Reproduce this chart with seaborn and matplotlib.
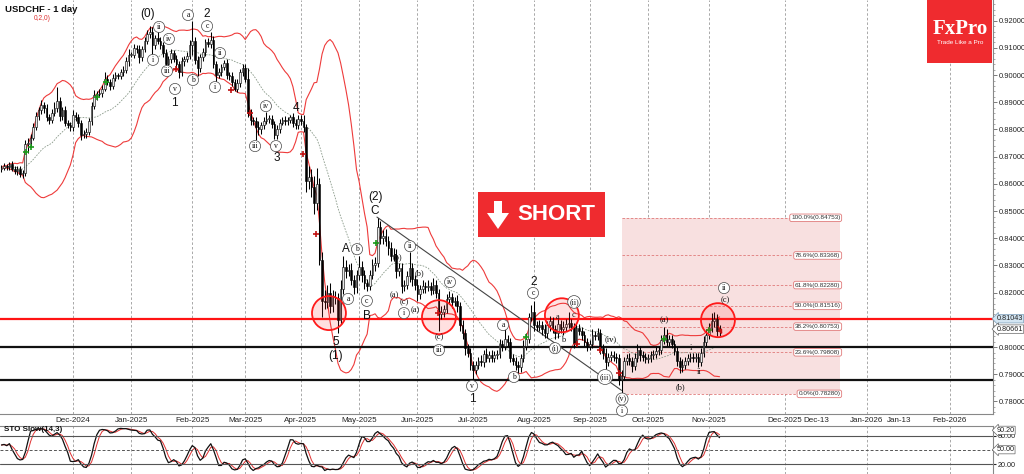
import numpy as np
import pandas as pd
import matplotlib
matplotlib.use("Agg")
import matplotlib.pyplot as plt
import matplotlib.transforms as mtrans
from matplotlib.patches import Rectangle, Ellipse, Polygon
import seaborn as sns

# ---------------- data ----------------
start_date = "2024-10-24"
open_first = 8655
# daily closes in pips (x 1e-4)
closes_oct24 = [8660, 8665, 8662, 8672, 8655, 8647]
closes_nov24 = [8655, 8635, 8640, 8745, 8750, 8770, 8810, 8850, 8870, 8890, 8880, 8845, 8835, 8860, 8880, 8905, 8850, 8870, 8825, 8815, 8810]
closes_dec24 = [8855, 8845, 8825, 8780, 8785, 8790, 8830, 8885, 8925, 8930, 8935, 8950, 8985, 8975, 8960, 8990, 9000, 8995, 9010, 9020, 9050, 9075]
closes_jan25 = [9075, 9100, 9095, 9065, 9095, 9125, 9150, 9160, 9110, 9135, 9125, 9110, 9080, 9040, 9060, 9080, 9060, 9040, 9010, 9050, 9060, 9070, 9110]
closes_feb25 = [9125, 9055, 9025, 9065, 9085, 9120, 9115, 9130, 9040, 9000, 9010, 9030, 9045, 9000, 8995, 8975, 8950, 8970, 9010, 9025]
closes_mar25 = [8985, 8860, 8835, 8830, 8810, 8800, 8815, 8830, 8840, 8840, 8820, 8780, 8800, 8825, 8835, 8830, 8835, 8845, 8825, 8815, 8840]
closes_apr25 = [8830, 8810, 8610, 8625, 8590, 8530, 8600, 8320, 8170, 8165, 8200, 8150, 8185, 8180, 8100, 8215, 8295, 8280, 8285, 8245, 8220, 8265]
closes_may25 = [8295, 8265, 8235, 8225, 8265, 8300, 8310, 8440, 8400, 8410, 8390, 8365, 8335, 8340, 8280, 8290, 8225, 8230, 8260, 8290, 8250, 8230]
closes_jun25 = [8195, 8215, 8225, 8220, 8225, 8210, 8230, 8200, 8120, 8130, 8140, 8175, 8185, 8165, 8170, 8150, 8080, 8050, 7995, 7980, 7935]
closes_jul25 = [7915, 7935, 7950, 7945, 7975, 7960, 7970, 7960, 7970, 7975, 8010, 8005, 8030, 8020, 7960, 7950, 7935, 7925, 7960, 8005, 8030, 8110, 8130]
closes_aug25 = [8080, 8075, 8080, 8065, 8050, 8080, 8095, 8065, 8050, 8085, 8065, 8075, 8085, 8090, 8075, 8015, 8070, 8060, 8045, 8020, 8005]
closes_sep25 = [8010, 8045, 8040, 8050, 7995, 7980, 7945, 7965, 7970, 7965, 7960, 7880, 7895, 7950, 7960, 7950, 7930, 7960, 7990, 7970, 7965, 7955]
closes_oct25 = [7960, 7970, 7975, 7985, 7990, 8025, 8045, 8020, 8030, 8010, 7985, 7950, 7925, 7935, 7950, 7960, 7965, 7960, 7965, 7945, 7980, 8020, 8045]
closes_nov25 = [8070, 8095, 8105, 8060, 8066]

# upper / lower wick lengths in pips beyond the candle body
up_wick = ([10, 12, 8, 10, 12, 10] +
           [10, 12, 10, 15, 20, 12, 15, 15, 12, 18, 10, 15, 12, 15, 20, 50, 15, 12, 15, 10, 12] +
           [15, 10, 12, 10, 12, 15, 12, 15, 20, 12, 15, 12, 25, 15, 12, 15, 10, 8, 12, 15, 15, 20] +
           [10, 15, 12, 15, 12, 15, 15, 20, 15, 12, 30, 15, 12, 15, 12, 15, 12, 15, 12, 15, 12, 15, 20] +
           [75, 15, 15, 12, 15, 12, 15, 30, 15, 12, 15, 12, 10, 15, 12, 15, 12, 15, 12, 15] +
           [15, 40, 15, 12, 15, 20, 12, 15, 25, 12, 15, 12, 15, 12, 10, 15, 12, 10, 15, 12, 15] +
           [15, 25, 10, 40, 30, 40, 60, 20, 30, 40, 30, 35, 25, 20, 20, 30, 40, 25, 20, 25, 20, 20] +
           [40, 20, 20, 15, 20, 25, 20, 36, 25, 20, 25, 20, 20, 25, 20, 20, 20, 15, 20, 60, 20, 15] +
           [20, 15, 20, 15, 20, 15, 25, 15, 15, 20, 15, 20, 20, 15, 15, 20, 15, 20, 15, 15, 15] +
           [15, 15, 15, 20, 15, 20, 15, 20, 15, 15, 20, 15, 40, 15, 15, 15, 15, 15, 15, 20, 20, 15, 25] +
           [40, 15, 20, 15, 20, 15, 20, 15, 15, 20, 15, 20, 20, 40, 15, 15, 20, 15, 15, 15, 15] +
           [15, 20, 15, 20, 15, 15, 15, 15, 15, 15, 15, 15, 20, 15, 15, 20, 15, 20, 20, 15, 15, 15] +
           [15, 15, 15, 20, 15, 20, 30, 20, 15, 15, 15, 15, 15, 20, 15, 15, 15, 15, 15, 15, 15, 20, 20] +
           [20, 30, 25, 15, 15])
down_wick = ([10, 8, 12, 10, 8, 12] +
             [15, 10, 12, 10, 30, 12, 10, 12, 15, 12, 20, 12, 15, 10, 12, 15, 20, 15, 12, 10, 15] +
             [15, 12, 15, 20, 12, 15, 10, 12, 10, 15, 12, 15, 10, 12, 15, 12, 10, 8, 10, 12, 12, 15] +
             [10, 12, 15, 20, 12, 10, 12, 15, 55, 15, 12, 15, 15, 20, 12, 15, 12, 15, 20, 12, 15, 12, 10] +
             [35, 15, 30, 12, 15, 15, 12, 15, 15, 25, 12, 15, 12, 15, 12, 15, 10, 12, 15, 12] +
             [12, 15, 20, 15, 50, 20, 15, 12, 10, 15, 15, 15, 15, 12, 10, 12, 15, 12, 15, 12, 12] +
             [15, 20, 40, 30, 40, 40, 25, 20, 60, 25, 20, 25, 20, 20, 50, 15, 20, 25, 20, 15, 25, 20] +
             [20, 25, 20, 20, 15, 15, 20, 15, 20, 20, 20, 25, 20, 20, 25, 20, 25, 20, 15, 20, 25, 20] +
             [25, 20, 15, 20, 15, 20, 15, 20, 60, 15, 20, 15, 15, 20, 15, 20, 20, 20, 25, 15, 20] +
             [45, 15, 15, 15, 20, 15, 15, 15, 15, 15, 15, 20, 15, 15, 15, 15, 20, 20, 15, 15, 15, 15, 15] +
             [20, 15, 15, 20, 15, 15, 20, 15, 20, 15, 15, 20, 15, 15, 15, 20, 15, 15, 20, 15, 20] +
             [15, 15, 15, 15, 20, 25, 25, 15, 15, 15, 20, 20, 52, 15, 15, 15, 20, 15, 15, 20, 15, 15] +
             [15, 15, 15, 15, 15, 15, 15, 15, 15, 15, 15, 20, 20, 15, 15, 15, 15, 15, 15, 20, 15, 15, 15] +
             [15, 15, 20, 20, 20])

month_labels = ["Dec-2024", "Jan-2025", "Feb-2025", "Mar-2025", "Apr-2025", "May-2025", "Jun-2025",
                "Jul-2025", "Aug-2025", "Sep-2025", "Oct-2025", "Nov-2025"]
month_starts = ["2024-12-01", "2025-01-01", "2025-02-01", "2025-03-01", "2025-04-01", "2025-05-01",
                "2025-06-01", "2025-07-01", "2025-08-01", "2025-09-01", "2025-10-01", "2025-11-01"]
future_labels = ["Dec-2025", "Dec-13", "Jan-2026", "Jan-13", "Feb-2026"]
future_pos = [295.7, 307.4, 326.6, 338.7, 357.9]
future_grid = [True, False, True, False, True]

support_red = 0.81043
support_black = [0.8002, 0.7880]
last_price = 0.80661
sto_tag = "90.20"

fib_pct = [100.0, 78.6, 61.8, 50.0, 38.2, 23.6, 0.0]
fib_price = [0.84753, 0.83368, 0.82280, 0.81516, 0.80753, 0.79808, 0.78280]
fib_x = [234, 316.6]

circle_idx = [123.6, 165.1, 211.5, 270.4]
circle_price = [0.8125, 0.8110, 0.8117, 0.8099]

trend_idx = [141.7, 234.0]
trend_price = [0.8478, 0.7841]

buy_idx = [9.3, 11.2, 36, 39.5, 141.3, 198, 250, 267]
buy_price = [0.8717, 0.8736, 0.8920, 0.8975, 0.8382, 0.8037, 0.8030, 0.8063]
sell_idx = [65.9, 86.6, 93.8, 113.8, 118.7, 164.7, 217.2, 225.9, 233.0]
sell_price = [0.9022, 0.8945, 0.8861, 0.8710, 0.8416, 0.8125, 0.8011, 0.7989, 0.7905]

big_labels = [("(0)", 55.3, 0.9225), ("1", 65.1, 0.8897), ("2", 77.6, 0.9225), ("4", 111.2, 0.8879),
              ("3", 104.0, 0.8695), ("5", 126.2, 0.8019), ("(1)", 125.9, 0.7967), ("A", 130.0, 0.8360),
              ("B", 137.9, 0.8114), ("(2)", 141.0, 0.8551), ("C", 141.0, 0.8500), ("1", 177.6, 0.7809),
              ("2", 201.0, 0.8239)]
circled_labels = [("ii", 59.5, 0.9177), ("iv", 63.2, 0.9133), ("i", 57.2, 0.9056), ("iii", 62.5, 0.9015),
                  ("v", 65.5, 0.8949), ("a", 70.4, 0.9221), ("c", 77.6, 0.9180), ("b", 72.3, 0.8982),
                  ("ii", 82.5, 0.9081), ("i", 80.6, 0.8956), ("iv", 99.8, 0.8886), ("iii", 95.7, 0.8739),
                  ("v", 103.6, 0.8739), ("b", 134.2, 0.8360), ("a", 130.8, 0.8177), ("c", 137.9, 0.8170),
                  ("ii", 154.2, 0.8371), ("i", 151.9, 0.8125), ("iv", 169.3, 0.8239), ("iii", 165.1, 0.7989),
                  ("v", 177.6, 0.7857), ("a", 189.3, 0.8081), ("b", 193.4, 0.7890), ("c", 200.6, 0.8199),
                  ("(ii)", 216.1, 0.8166), ("(i)", 208.9, 0.7996), ("(iii)", 227.8, 0.7890),
                  ("(v)", 234.2, 0.7809), ("i", 234.2, 0.7766), ("ii", 272.7, 0.8217)]
plain_labels = [("(b)", 149.3, 0.8331), ("(b)", 157.9, 0.8272), ("(a)", 148.1, 0.8191), ("(c)", 151.9, 0.8166),
                ("(a)", 156.1, 0.8136), ("(c)", 165.1, 0.8037), ("(iv)", 230.0, 0.8030), ("(a)", 250.0, 0.8100),
                ("(b)", 256.1, 0.7853), ("i", 260.2, 0.7997), ("ii", 263.2, 0.7908), ("(c)", 273.0, 0.8173),
                ("b", 211.9, 0.8026), ("a", 210.0, 0.8111), ("c", 216.0, 0.8118)]

# ---------------- derived series ----------------
closes = np.array(closes_oct24 + closes_nov24 + closes_dec24 + closes_jan25 + closes_feb25 + closes_mar25 +
                  closes_apr25 + closes_may25 + closes_jun25 + closes_jul25 + closes_aug25 + closes_sep25 +
                  closes_oct25 + closes_nov25, dtype=float) / 1e4
opens = np.concatenate([[open_first / 1e4], closes[:-1]])
highs = np.maximum(opens, closes) + np.array(up_wick) / 1e4
lows = np.minimum(opens, closes) - np.array(down_wick) / 1e4
n = len(closes)
idx = np.arange(n)
dates = pd.bdate_range(start_date, periods=n)

df = pd.DataFrame({"idx": idx, "date": dates, "open": opens, "high": highs, "low": lows, "close": closes})
mid = df["close"].rolling(20, min_periods=1).mean()
sd = df["close"].rolling(20, min_periods=1).std(ddof=0)
df["bb_mid"] = mid
df["bb_up"] = mid + 2 * sd
df["bb_lo"] = mid - 2 * sd
low14 = df["low"].rolling(14, min_periods=1).min()
high14 = df["high"].rolling(14, min_periods=1).max()
fastk = 100 * (df["close"] - low14) / (high14 - low14)
df["slowk"] = fastk.rolling(3, min_periods=1).mean()
df["slowd"] = df["slowk"].rolling(3, min_periods=1).mean()

month_pos = [int(np.argmax(dates >= pd.Timestamp(m))) for m in month_starts]

# ---------------- style ----------------
sns.set_style("white")
plt.rcParams["font.family"] = ["Liberation Sans", "DejaVu Sans"]

W, H = 1024, 474
fig = plt.figure(figsize=(W / 100, H / 100), dpi=100)
pix = mtrans.Affine2D().scale(1 / W, -1 / H).translate(0, 1) + fig.transFigure

ax = fig.add_axes([0, (H - 414) / H, 993 / W, 414 / H])
axs = fig.add_axes([0, 0, 993 / W, 48 / H])

xlim = (-0.55, 374.2)
ax.set_xlim(*xlim)
ax.set_ylim(0.77540, 0.92761)
axs.set_xlim(*xlim)
axs.set_ylim(-1, 100)

# gridlines
grid_x = month_pos + [p for p, g in zip(future_pos, future_grid) if g]
for a in (ax, axs):
    for gx in grid_x:
        a.axvline(gx, color="#9a9a9a", lw=0.6, ls=(0, (3, 2.5)), zorder=0)

# fibonacci zone
ax.add_patch(Rectangle((fib_x[0], fib_price[-1]), fib_x[1] - fib_x[0], fib_price[0] - fib_price[-1],
                       facecolor="#f8e0e0", edgecolor="none", zorder=0.5))
for pct, pr in zip(fib_pct, fib_price):
    ax.hlines(pr, fib_x[0], fib_x[1] - 2, color="#e07a7a", lw=0.6, ls=(0, (3, 2)), zorder=0.6)
    ax.text(fib_x[1], pr, f"{pct:.1f}%({pr:.5f})", fontsize=4.6, ha="right", va="center", color="#333",
            bbox=dict(boxstyle="round,pad=0.2,rounding_size=0.3", fc="white", ec="#e07a7a", lw=0.6), zorder=6)

# support / resistance lines
ax.axhline(support_red, color="#ff1414", lw=1.6, zorder=3)
for lv in support_black:
    ax.axhline(lv, color="#111111", lw=1.6, zorder=3)

# Bollinger bands and middle line
sns.lineplot(data=df, x="idx", y="bb_up", ax=ax, color="#ee3b3b", lw=0.8, zorder=2)
sns.lineplot(data=df, x="idx", y="bb_lo", ax=ax, color="#ee3b3b", lw=0.8, zorder=2)
sns.lineplot(data=df, x="idx", y="bb_mid", ax=ax, color="#8a9a8a", lw=0.6, ls=(0, (2, 1.5)), zorder=2)

# candles
ax.vlines(df["idx"], df["low"], df["high"], color="black", lw=0.75, zorder=4)
up = df["close"] >= df["open"]
body_h = np.maximum((df["close"] - df["open"]).abs(), 0.00012)
body_b = np.minimum(df["close"], df["open"])
ax.bar(df["idx"][up], body_h[up], bottom=body_b[up], width=0.62, color="#e8e8e8", edgecolor="black",
       linewidth=0.4, zorder=4.5)
ax.bar(df["idx"][~up], body_h[~up], bottom=body_b[~up], width=0.62, color="black", edgecolor="black",
       linewidth=0.4, zorder=4.5)

# trend line
ax.plot(trend_idx, trend_price, color="#444444", lw=0.8, zorder=3)

# signal markers
ax.scatter(buy_idx, buy_price, marker="+", s=22, color="#1a9a1a", linewidths=1.2, zorder=5)
ax.scatter(sell_idx, sell_price, marker="+", s=22, color="#c01010", linewidths=1.2, zorder=5)
ax.annotate("", xy=(272.5, 0.8038), xytext=(270.0, 0.8085),
            arrowprops=dict(arrowstyle="-|>", color="#c01010", lw=1.0, mutation_scale=6), zorder=6)

# red circles
for cx, cy in zip(circle_idx, circle_price):
    ax.add_patch(Ellipse((cx, cy), 12.8, 0.0125, facecolor=(1, 0.2, 0.2, 0.15), edgecolor="#ff1a1a",
                         lw=1.3, zorder=5))

# wave labels
for t, x, y in big_labels:
    ax.text(x, y, t, fontsize=8.5, ha="center", va="center", color="#111", zorder=7)
for t, x, y in circled_labels:
    ax.text(x, y, t, fontsize=5.6, ha="center", va="center", family="Liberation Serif", color="#111",
            bbox=dict(boxstyle="circle,pad=0.2", fc="white", ec="#444", lw=0.5), zorder=7)
for t, x, y in plain_labels:
    ax.text(x, y, t, fontsize=6, ha="center", va="center", family="Liberation Serif", color="#111", zorder=7)

# axes styling (main)
for s in ["top", "left"]:
    ax.spines[s].set_visible(False)
ax.spines["right"].set_color("#888")
ax.spines["bottom"].set_color("#888")
ax.yaxis.tick_right()
yt = np.round(np.arange(0.78, 0.9201, 0.01), 2)
ax.set_yticks(yt)
# the 0.81000 label is hidden beneath the price tag in the reference
ax.set_yticklabels(["" if abs(v - 0.81) < 1e-9 else f"{v:.5f}" for v in yt], fontsize=5.4, color="#222")
ax.set_yticks(np.arange(0.776, 0.927, 0.002), minor=True)
ax.tick_params(axis="y", which="major", length=3, width=0.6, color="#666", pad=0.8, right=True)
ax.tick_params(axis="y", which="minor", length=1.5, width=0.5, color="#888", right=True)
ax.set_xticks(month_pos + future_pos)
ax.set_xticklabels(month_labels + future_labels, fontsize=5.8, color="#222")
ax.tick_params(axis="x", length=0, pad=2)
ax.set_xlabel("")
ax.set_ylabel("")

# price tags
tr = mtrans.blended_transform_factory(ax.transAxes, ax.transData)
ax.text(1.0035, support_red, f"{support_red:.5f}", transform=tr, fontsize=5.2, ha="left", va="center",
        color="#222", bbox=dict(boxstyle="larrow,pad=0.1", fc="#d3e5f2", ec="#7a9cb8", lw=0.5),
        clip_on=False, zorder=8)
ax.text(1.0035, last_price, f"{last_price:.5f}", transform=tr, fontsize=5.2, ha="left", va="center",
        color="#222", bbox=dict(boxstyle="larrow,pad=0.1", fc="white", ec="#666", lw=0.5),
        clip_on=False, zorder=8)

# stochastic panel
sns.lineplot(data=df, x="idx", y="slowd", ax=axs, color="#e03030", lw=0.7)
sns.lineplot(data=df, x="idx", y="slowk", ax=axs, color="#111111", lw=0.9)
axs.axhline(80, color="#555", lw=0.8)
axs.axhline(20, color="#555", lw=0.8)
axs.axhline(50, color="#555", lw=0.7, ls=(0, (3, 2)))
for s in ["left", "bottom"]:
    axs.spines[s].set_visible(False)
axs.spines["top"].set_color("#888")
axs.spines["right"].set_color("#888")
axs.set_xticks([])
axs.yaxis.tick_right()
axs.set_yticks([80, 20])
axs.set_yticklabels(["80.00", "20.00"], fontsize=5.2, color="#222")
axs.tick_params(axis="y", length=2, pad=1.5)
axs.set_xlabel("")
axs.set_ylabel("")
trs = mtrans.blended_transform_factory(axs.transAxes, axs.transData)
axs.text(1.0035, 91, sto_tag, transform=trs, fontsize=5.2, ha="left", va="center", color="#222",
         bbox=dict(boxstyle="larrow,pad=0.08", fc="white", ec="#666", lw=0.5), clip_on=False)
axs.text(1.0035, 50, "50.00", transform=trs, fontsize=5.2, ha="left", va="center", color="#222",
         bbox=dict(boxstyle="larrow,pad=0.08", fc="white", ec="#666", lw=0.5), clip_on=False)
axs.text(0.004, 92, "STO Slow(14,3)", transform=trs, fontsize=5.8, ha="left", va="center", color="#111",
         fontweight="bold")

# header texts
fig.text(5, 9, "USDCHF - 1 day", transform=pix, fontsize=6.8, fontweight="bold", color="#111",
         ha="left", va="center")
fig.text(34, 19, "0,2,0)", transform=pix, fontsize=4.8, color="#e03030", ha="left", va="center")

# FxPro logo
fig.add_artist(Rectangle((927, 0), 65, 63, transform=pix, facecolor="#ef2b2f", edgecolor="none", zorder=10))
fig.text(960, 29, "FxPro", transform=pix, fontsize=15, family="Liberation Serif", fontweight="bold",
         color="white", ha="center", va="center", zorder=11)
fig.text(960, 43, "Trade Like a Pro", transform=pix, fontsize=4.6, color="white", ha="center",
         va="center", zorder=11)

# SHORT banner
fig.add_artist(Rectangle((478, 192), 127, 45, transform=pix, facecolor="#ef2b2f", edgecolor="none", zorder=10))
fig.add_artist(Polygon([(494, 201), (502, 201), (502, 213), (509, 213), (498, 229), (487, 213), (494, 213)],
                       closed=True, transform=pix, facecolor="white", edgecolor="none", zorder=11))
fig.text(556, 215, "SHORT", transform=pix, fontsize=16, fontweight="bold", color="white",
         ha="center", va="center", zorder=11)

fig.savefig("out.png", dpi=100)
